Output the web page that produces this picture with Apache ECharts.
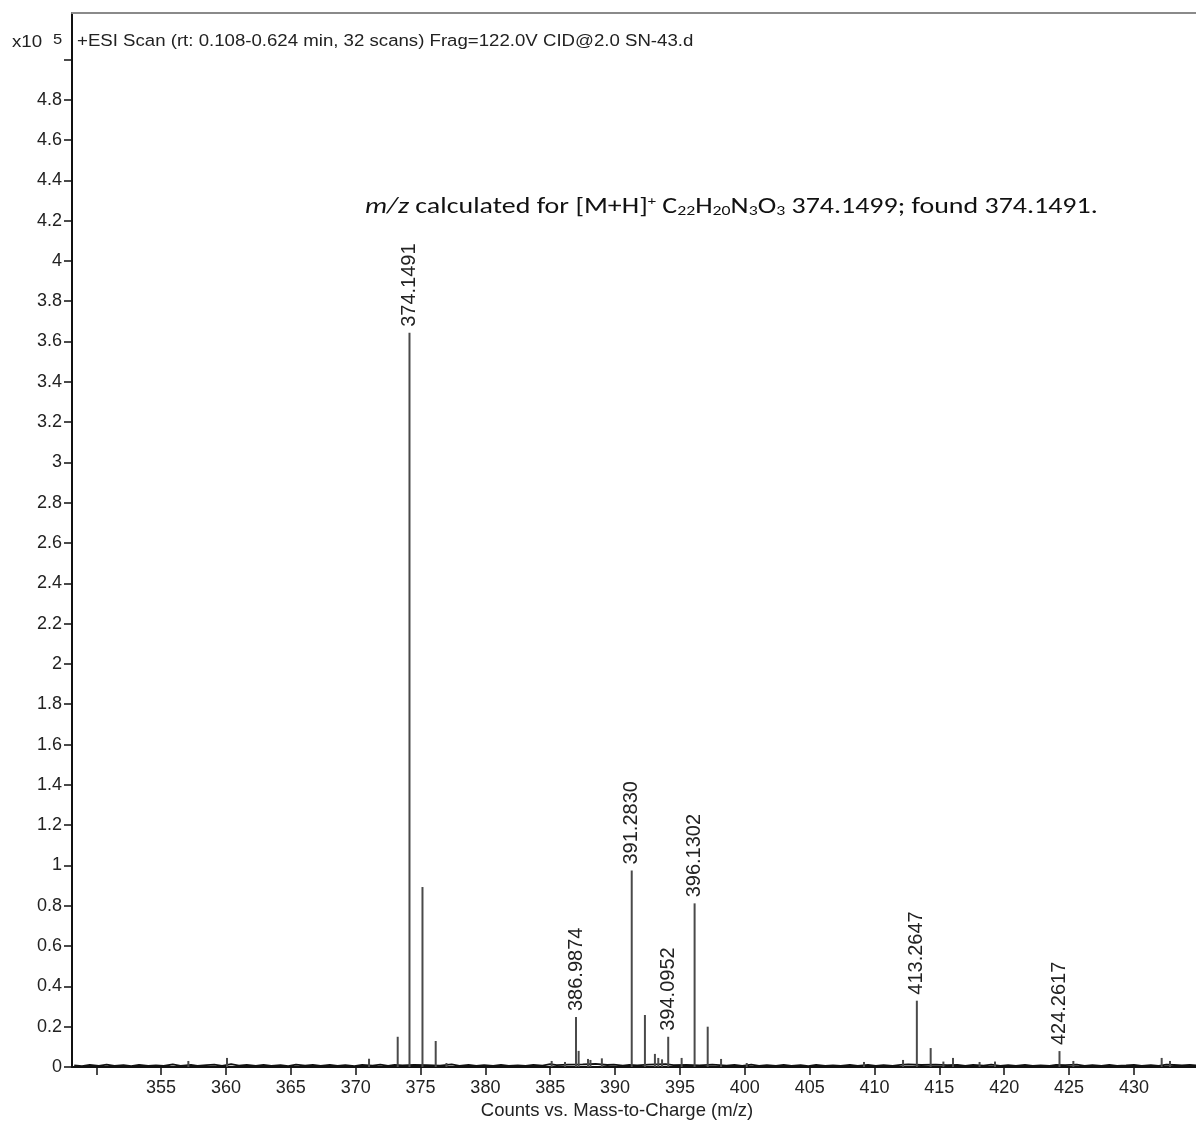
<!DOCTYPE html>
<html>
<head>
<meta charset="utf-8">
<script src="https://cdn.jsdelivr.net/npm/echarts@6/dist/echarts.min.js"></script>
<style>
  html, body { margin: 0; padding: 0; background: #fff; }
  #chart { width: 1196px; height: 1122px; }
</style>
</head>
<body>
<div id="chart"></div>
<script>
// Labelled peaks: m/z and intensity (x10^5 counts)
const labelledMz  = [374.1491, 386.9874, 391.2830, 394.0952, 396.1302, 413.2647, 424.2617];
const labelledInt = [3.643, 0.248, 0.975, 0.150, 0.812, 0.329, 0.079];

// Smaller unlabelled peaks
const minorMz  = [357.10, 360.08, 371.03, 373.24, 375.15, 376.17, 377.00, 385.11, 386.14, 387.19,
                  387.91, 388.10, 388.98, 392.30, 393.07, 393.33, 393.62, 395.13, 397.14, 398.17,
                  400.15, 409.19, 412.20, 414.33, 415.31, 416.05, 418.10, 419.29, 425.33, 432.14, 432.78];
const minorInt = [0.030, 0.045, 0.041, 0.150, 0.893, 0.129, 0.020, 0.030, 0.025, 0.080,
                  0.040, 0.035, 0.043, 0.258, 0.065, 0.045, 0.038, 0.045, 0.200, 0.040,
                  0.020, 0.025, 0.035, 0.094, 0.027, 0.045, 0.025, 0.027, 0.030, 0.045, 0.030];

// Baseline noise trace
const noiseMz  = [348.3, 348.9, 349.5, 350.2, 350.8, 351.4, 352.1, 352.7, 353.3, 354.0,
                  354.6, 355.2, 355.9, 356.5, 357.3, 357.8, 358.5, 359.1, 359.7, 360.4,
                  361.0, 361.6, 362.3, 362.9, 363.5, 364.2, 364.8, 365.4, 366.1, 366.7,
                  367.3, 368.0, 368.6, 369.2, 369.9, 370.5, 371.3, 371.9, 372.5, 373.0,
                  373.6, 374.5, 375.5, 376.5, 377.4, 378.0, 378.7, 379.3, 379.9, 380.6,
                  381.2, 381.8, 382.5, 383.1, 383.7, 384.4, 385.0, 385.5, 386.4, 387.5,
                  388.5, 389.4, 389.9, 390.6, 391.1, 391.7, 392.6, 393.9, 394.5, 395.5,
                  396.5, 397.5, 398.6, 399.2, 399.8, 400.5, 401.1, 401.7, 402.4, 403.0,
                  403.6, 404.3, 404.9, 405.5, 406.2, 406.8, 407.4, 408.1, 408.7, 409.5,
                  410.1, 410.7, 411.4, 412.0, 412.6, 413.6, 414.7, 415.6, 416.4, 417.0,
                  417.6, 418.4, 419.0, 419.7, 420.3, 420.9, 421.6, 422.2, 422.8, 423.5,
                  424.0, 424.7, 425.6, 426.2, 426.8, 427.5, 428.1, 428.7, 429.4, 430.0,
                  430.6, 431.3, 431.9, 432.5, 433.1, 433.7, 434.3, 434.9];
const noiseInt = [0.008, 0.004, 0.010, 0.006, 0.012, 0.005, 0.009, 0.004, 0.011, 0.006,
                  0.008, 0.005, 0.013, 0.006, 0.010, 0.005, 0.009, 0.012, 0.006, 0.014,
                  0.007, 0.010, 0.005, 0.011, 0.006, 0.009, 0.004, 0.012, 0.007, 0.010,
                  0.005, 0.011, 0.006, 0.009, 0.004, 0.010, 0.007, 0.012, 0.006, 0.010,
                  0.008, 0.011, 0.009, 0.007, 0.013, 0.006, 0.010, 0.005, 0.009, 0.006,
                  0.011, 0.005, 0.008, 0.006, 0.010, 0.007, 0.014, 0.009, 0.012, 0.013,
                  0.015, 0.010, 0.012, 0.007, 0.010, 0.008, 0.012, 0.014, 0.009, 0.011,
                  0.008, 0.012, 0.007, 0.010, 0.005, 0.012, 0.006, 0.009, 0.005, 0.011,
                  0.006, 0.009, 0.004, 0.010, 0.006, 0.008, 0.005, 0.011, 0.006, 0.010,
                  0.005, 0.009, 0.006, 0.011, 0.013, 0.010, 0.012, 0.009, 0.011, 0.006,
                  0.010, 0.007, 0.012, 0.006, 0.009, 0.005, 0.010, 0.006, 0.008, 0.005,
                  0.011, 0.009, 0.012, 0.006, 0.009, 0.005, 0.010, 0.006, 0.008, 0.011,
                  0.005, 0.009, 0.006, 0.012, 0.010, 0.008, 0.011, 0.007];

// Axis ticks and tick labels
const xTicks      = [350, 355, 360, 365, 370, 375, 380, 385, 390, 395, 400, 405, 410, 415, 420, 425, 430];
const xTickLabels = [355, 360, 365, 370, 375, 380, 385, 390, 395, 400, 405, 410, 415, 420, 425, 430];
const yTicks      = [0, 0.2, 0.4, 0.6, 0.8, 1, 1.2, 1.4, 1.6, 1.8, 2, 2.2, 2.4, 2.6, 2.8, 3,
                     3.2, 3.4, 3.6, 3.8, 4, 4.2, 4.4, 4.6, 4.8, 5];
const yTickLabels = [0, 0.2, 0.4, 0.6, 0.8, 1, 1.2, 1.4, 1.6, 1.8, 2, 2.2, 2.4, 2.6, 2.8, 3,
                     3.2, 3.4, 3.6, 3.8, 4, 4.2, 4.4, 4.6, 4.8];

const X_MIN = 348.13, X_MAX = 434.94;
const AXIS_FONT = '"Liberation Sans", Arial, sans-serif';
const NOTE_FONT = 'Carlito, Lato, "Open Sans", sans-serif';
const INK = '#222';

const chart = echarts.init(document.getElementById('chart'), null, { renderer: 'canvas' });

// A vertical stick from the baseline to the peak height
function stick(params, api, color, width) {
  const x = api.value(0);
  const h = api.value(1);
  const p0 = api.coord([x, 0]);
  const p1 = api.coord([x, h]);
  return {
    type: 'line',
    shape: { x1: p0[0], y1: p0[1], x2: p1[0], y2: p1[1] },
    style: { stroke: color, lineWidth: width }
  };
}

chart.setOption({
  animation: false,
  backgroundColor: '#fff',
  grid: {
    left: 72, right: -2, top: 13, bottom: 55,
    containLabel: false, outerBoundsMode: 'none',
    show: false
  },
  xAxis: [
    {
      type: 'value',
      min: X_MIN, max: X_MAX,
      axisLine: { show: true, onZero: false, lineStyle: { color: '#111', width: 2 } },
      axisTick: { show: true, customValues: xTicks, length: 8, lineStyle: { color: '#111', width: 1.5 } },
      axisLabel: {
        customValues: xTickLabels, margin: 12,
        fontFamily: AXIS_FONT, fontSize: 18, color: INK
      },
      splitLine: { show: false },
      name: 'Counts vs. Mass-to-Charge (m/z)',
      nameLocation: 'middle', nameGap: 32,
      nameTextStyle: { fontFamily: AXIS_FONT, fontSize: 18.5, color: INK, padding: [0, 36, 0, 0] }
    },
    {
      // frame line along the top of the plot
      type: 'value', position: 'top',
      min: X_MIN, max: X_MAX,
      axisLine: { show: true, onZero: false, lineStyle: { color: '#8a8a8a', width: 2 } },
      axisTick: { show: false },
      axisLabel: { show: false },
      splitLine: { show: false }
    }
  ],
  yAxis: {
    type: 'value',
    min: 0, max: 5.23,
    axisLine: { show: true, onZero: false, lineStyle: { color: '#111', width: 2 } },
    axisTick: { show: true, customValues: yTicks, length: 8, lineStyle: { color: '#111', width: 1.5 } },
    axisLabel: {
      customValues: yTickLabels, margin: 10,
      fontFamily: AXIS_FONT, fontSize: 18, color: INK
    },
    splitLine: { show: false }
  },
  series: [
    {
      name: 'noise',
      type: 'line',
      data: noiseMz.map((m, i) => [m, noiseInt[i]]),
      showSymbol: false,
      lineStyle: { color: '#111', width: 1.8 },
      z: 3
    },
    {
      name: 'minor',
      type: 'custom',
      data: minorMz.map((m, i) => [m, minorInt[i]]),
      encode: { x: 0, y: 1 },
      renderItem: (params, api) => stick(params, api, '#4a4a4a', 2),
      z: 4
    },
    {
      name: 'labelled',
      type: 'custom',
      data: labelledMz.map((m, i) => [m, labelledInt[i]]),
      encode: { x: 0, y: 1 },
      renderItem: (params, api) => {
        const x = api.value(0);
        const top = api.coord([x, api.value(1)]);
        return {
          type: 'group',
          children: [
            stick(params, api, '#4a4a4a', 2),
            {
              type: 'text',
              x: top[0], y: top[1] - 6,
              rotation: Math.PI / 2,
              style: {
                text: x.toFixed(4),
                fontFamily: AXIS_FONT, fontSize: 20, fill: INK,
                align: 'left', verticalAlign: 'middle'
              }
            }
          ]
        };
      },
      z: 5
    }
  ],
  graphic: [
    {
      type: 'text', x: 12, y: 42, scaleX: 1.1,
      style: {
        text: 'x10', fontFamily: AXIS_FONT, fontSize: 17, fill: INK,
        align: 'left', verticalAlign: 'middle'
      }
    },
    {
      type: 'text', x: 53, y: 40, scaleX: 1.1,
      style: {
        text: '5', fontFamily: AXIS_FONT, fontSize: 15, fill: INK,
        align: 'left', verticalAlign: 'middle'
      }
    },
    {
      type: 'text', x: 77, y: 41, scaleX: 1.11,
      style: {
        text: '+ESI Scan (rt: 0.108-0.624 min, 32 scans) Frag=122.0V CID@2.0 SN-43.d',
        fontFamily: AXIS_FONT, fontSize: 16.8, fill: INK,
        align: 'left', verticalAlign: 'middle'
      }
    },
    {
      type: 'text', x: 365, y: 207, scaleX: 1.27,
      style: {
        text: '{i|m/z} calculated for [M+H]{sup|+} C{sub|22}H{sub|20}N{sub|3}O{sub|3} 374.1499; found 374.1491.',
        fontFamily: NOTE_FONT, fontSize: 22, fill: '#111',
        align: 'left', verticalAlign: 'middle',
        rich: {
          i: { fontFamily: NOTE_FONT, fontSize: 22, fontStyle: 'italic', fill: '#111' },
          sup: { fontFamily: NOTE_FONT, fontSize: 13, fill: '#111', padding: [0, 0, 11, 0] },
          sub: { fontFamily: NOTE_FONT, fontSize: 14, fill: '#111', padding: [9, 0, 0, 0] }
        }
      }
    }
  ]
});
</script>
</body>
</html>
